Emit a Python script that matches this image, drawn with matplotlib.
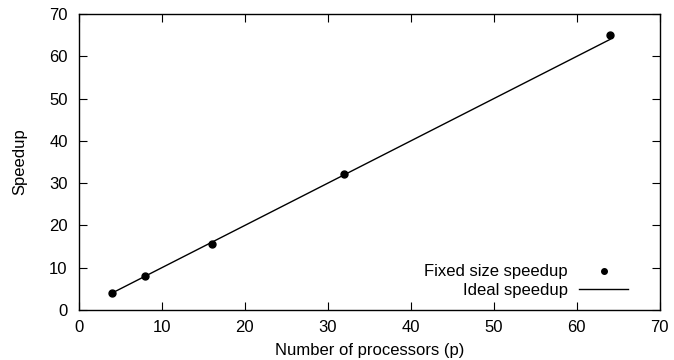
import matplotlib
matplotlib.use("Agg")
from matplotlib import pyplot as plt

procs = [4, 8, 16, 32, 64]
speedup = [4.0, 8.0, 15.7, 32.1, 65.0]
ideal_x = [4, 64]
ideal_y = [4, 64]

plt.rcParams['font.family'] = ['Liberation Sans', 'DejaVu Sans']

fig = plt.figure(figsize=(6.74, 3.6), dpi=100)
ax = fig.add_axes([0.117, 0.139, 0.862, 0.822])

ax.plot(procs, speedup, 'o', color='black', markersize=5, label='Fixed size speedup')
ax.plot(ideal_x, ideal_y, '-', color='black', linewidth=1, label='Ideal speedup')

ax.set_xlim(0, 70)
ax.set_ylim(0, 70)
ax.set_xticks(range(0, 71, 10))
ax.set_yticks(range(0, 71, 10))
ax.tick_params(direction='in', top=True, right=True, length=6, labelsize=12)
ax.tick_params(axis='y', pad=8)
ax.tick_params(axis='x', pad=7)
for s in ax.spines.values():
    s.set_linewidth(1)

ax.set_xlabel('Number of processors (p)', fontsize=12, labelpad=6)
ax.set_ylabel('Speedup', fontsize=12, labelpad=16)

ax.legend(loc='lower right', frameon=False, markerfirst=False, fontsize=12,
          handlelength=2.9, handletextpad=0.7, labelspacing=0.2, borderpad=0,
          markerscale=0.8, bbox_to_anchor=(0.959, 0.013))

fig.savefig('out.png', dpi=100)
